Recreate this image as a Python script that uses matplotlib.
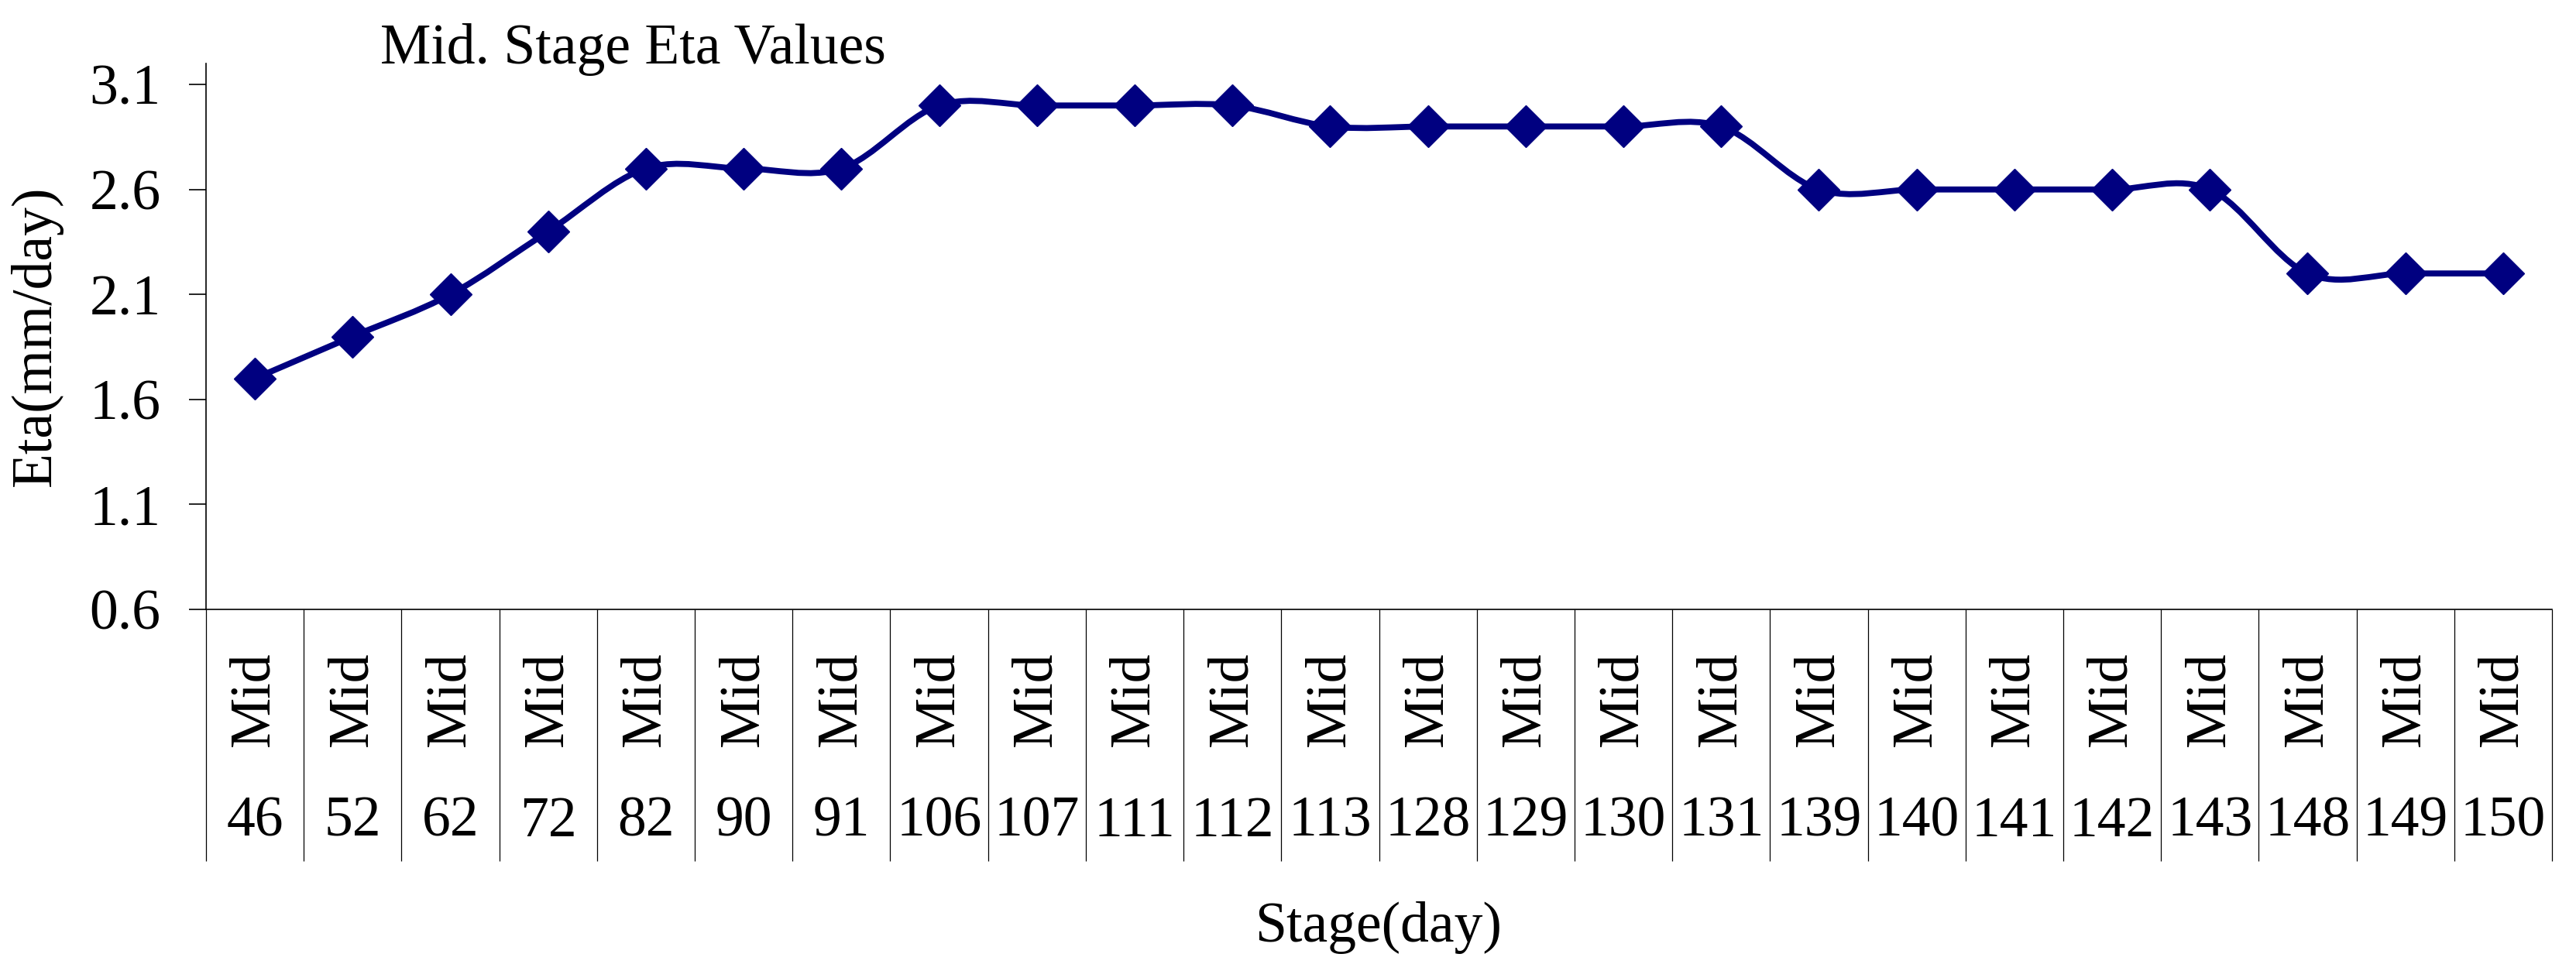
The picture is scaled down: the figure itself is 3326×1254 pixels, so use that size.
import numpy as np
import matplotlib
matplotlib.use("Agg")
import matplotlib.pyplot as plt
from matplotlib.path import Path
from matplotlib.patches import PathPatch
import matplotlib.transforms as mtransforms

stage = ["Mid"] * 24
days = ["46", "52", "62", "72", "82", "90", "91", "106", "107", "111", "112", "113",
        "128", "129", "130", "131", "139", "140", "141", "142", "143", "148", "149", "150"]
eta = [1.7, 1.9, 2.1, 2.4, 2.7, 2.7, 2.7, 3.0, 3.0, 3.0, 3.0, 2.9,
       2.9, 2.9, 2.9, 2.9, 2.6, 2.6, 2.6, 2.6, 2.6, 2.2, 2.2, 2.2]
yticks = [0.6, 1.1, 1.6, 2.1, 2.6, 3.1]

plt.rcParams['font.family'] = ['Liberation Serif', 'DejaVu Serif']
FS = 53
NAVY = '#000080'

W, H = 3326, 1254
fig = plt.figure(figsize=(W / 100, H / 100), dpi=100)
L, R, T, B = 266, 3295, 82, 787
ax = fig.add_axes([L / W, 1 - B / H, (R - L) / W, (B - T) / H])

n = len(eta)
x = np.arange(n, dtype=float)
y = np.array(eta, dtype=float)

# Excel-style smoothed line (Catmull-Rom Bezier)
verts = [(x[0], y[0])]
codes = [Path.MOVETO]
for i in range(n - 1):
    p0 = np.array([x[max(i - 1, 0)], y[max(i - 1, 0)]])
    p1 = np.array([x[i], y[i]])
    p2 = np.array([x[i + 1], y[i + 1]])
    p3 = np.array([x[min(i + 2, n - 1)], y[min(i + 2, n - 1)]])
    c1 = p1 + (p2 - p0) / 6.0
    c2 = p2 - (p3 - p1) / 6.0
    verts += [tuple(c1), tuple(c2), tuple(p2)]
    codes += [Path.CURVE4] * 3
ax.add_patch(PathPatch(Path(verts, codes), facecolor='none', edgecolor=NAVY,
                       linewidth=5.6, zorder=3, capstyle='round', joinstyle='round'))
ax.plot(x, y, linestyle='none', marker='D', markersize=27, color=NAVY,
        markeredgecolor=NAVY, markeredgewidth=1, zorder=4)

ax.set_xlim(-0.5, n - 0.5)
ax.set_ylim(0.6, 3.2)
ax.set_yticks(yticks)
ax.set_yticklabels([f"{v:.1f}" for v in yticks], fontsize=FS)
ax.tick_params(axis='y', direction='out', length=16, width=1.2, pad=26, colors='black')

for s in ['top', 'right']:
    ax.spines[s].set_visible(False)
for s in ['left', 'bottom']:
    ax.spines[s].set_linewidth(1.2)
    ax.spines[s].set_color('black')

# category boundaries as long downward ticks
ax.set_xticks(np.arange(n + 1) - 0.5)
ax.set_xticklabels([])
ax.tick_params(axis='x', direction='out', length=(1112 - 787) * 0.72, width=0.9,
               colors='black')

trans = mtransforms.blended_transform_factory(ax.transData, ax.transAxes)
y_mid = (B - 903) / (B - T)
y_day = (B - 1062) / (B - T)
for i in range(n):
    ax.text(x[i], y_mid, stage[i], transform=trans, rotation=90, ha='center',
            va='center', fontsize=FS)
    ax.text(x[i], y_day, days[i], transform=trans, ha='center', va='center',
            fontsize=FS)

fig.text(817 / W, 1 - 82 / H, "Mid. Stage Eta Values", ha='center', va='baseline',
         fontsize=FS)
fig.text(47 / W, 1 - 434 / H, "Eta(mm/day)", rotation=90, ha='center', va='center',
         fontsize=FS)
fig.text(1780 / W, 1 - 1198 / H, "Stage(day)", ha='center', va='center', fontsize=FS)

fig.savefig("out.png", dpi=100, facecolor='white')
